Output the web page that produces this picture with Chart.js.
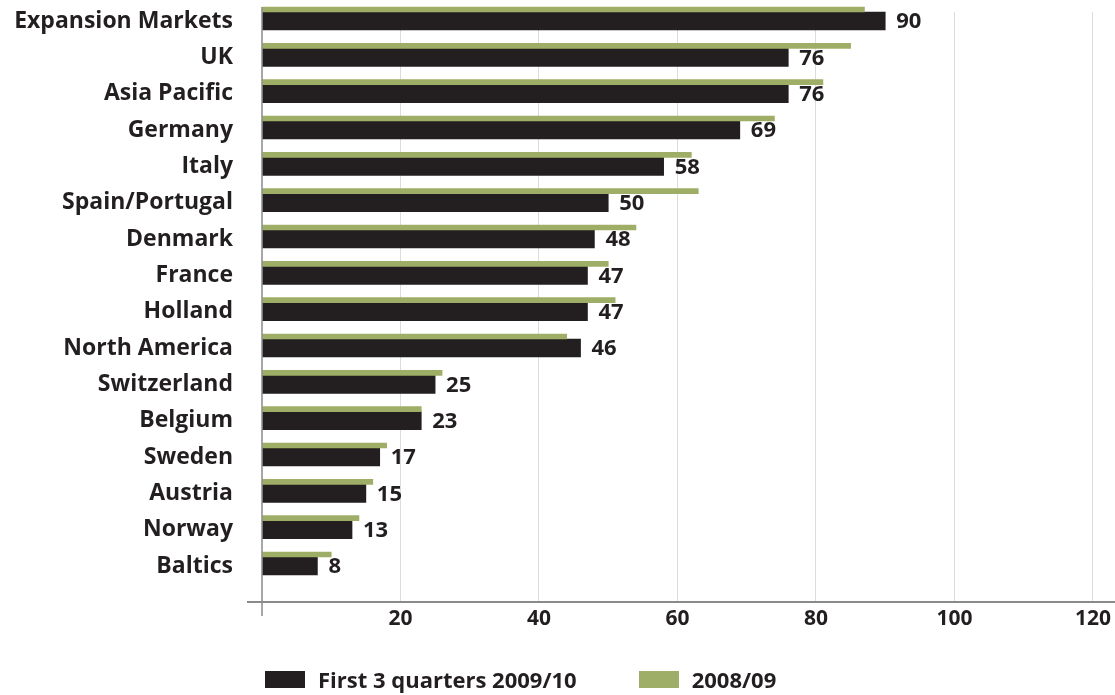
<!DOCTYPE html>
<html>
<head>
<meta charset="utf-8">
<script src="https://cdn.jsdelivr.net/npm/chart.js@4.4.1/dist/chart.umd.min.js"></script>
<style>
    body { margin: 0; background: #fff; }
    #wrap { position: relative; width: 1115px; height: 695px; }
    #legend { position: absolute; left: 265px; top: 664px; display: flex; font: bold 22px 'Open Sans', sans-serif; color: #231f20; }
    #legend .item { display: flex; align-items: center; margin-right: 62px; }
    #legend .box { width: 40px; height: 17px; margin-right: 13px; }
</style>
</head>
<body>
<div id="wrap">
    <canvas id="myChart"></canvas>
    <div id="legend"></div>
</div>
<script>
// 지역 이름
const regions = ['Expansion Markets', 'UK', 'Asia Pacific', 'Germany', 'Italy', 'Spain/Portugal', 'Denmark',
    'France', 'Holland', 'North America', 'Switzerland', 'Belgium', 'Sweden', 'Austria', 'Norway', 'Baltics'];
// First 3 quarters 2009/10
const current = [90, 76, 76, 69, 58, 50, 48, 47, 47, 46, 25, 23, 17, 15, 13, 8];
// 2008/09
const previous = [87, 85, 81, 74, 62, 63, 54, 50, 51, 44, 26, 23, 18, 16, 14, 10];
const xMax = 120;
const xStep = 20;

const seriesNames = ['First 3 quarters 2009/10', '2008/09'];
const darkColor = '#231f20';
const greenColor = '#9fae66';
const fontFamily = "'Open Sans', sans-serif";

// 막대 끝에 값 표시
const valueLabels = {
    id: 'valueLabels',
    afterDatasetsDraw(chart) {
        const ctx = chart.ctx;
        const meta = chart.getDatasetMeta(1);
        ctx.save();
        ctx.font = 'bold 22px ' + fontFamily;
        ctx.fillStyle = darkColor;
        ctx.textBaseline = 'middle';
        ctx.textAlign = 'left';
        meta.data.forEach((bar, i) => {
            ctx.fillText(current[i], bar.x + 11, bar.y + 1);
        });
        ctx.restore();
    }
};

// 축 선 (세로축은 아래로 더 길게, 가로축은 왼쪽으로 튀어나오게)
const axisLines = {
    id: 'axisLines',
    afterDraw(chart) {
        const ctx = chart.ctx;
        const area = chart.chartArea;
        const axisY = area.bottom + 45;
        ctx.save();
        ctx.strokeStyle = '#8a8a8a';
        ctx.lineWidth = 2;
        ctx.beginPath();
        ctx.moveTo(area.left - 15, axisY);
        ctx.lineTo(chart.width, axisY);
        ctx.stroke();
        ctx.lineWidth = 1.5;
        ctx.beginPath();
        ctx.moveTo(area.left, area.top - 5);
        ctx.lineTo(area.left, axisY + 14);
        ctx.stroke();
        ctx.restore();
    }
};

const ctx = document.getElementById('myChart').getContext('2d');
new Chart(ctx, {
    type: 'bar',
    data: {
        labels: regions,
        datasets: [{
            label: seriesNames[1],
            data: previous,
            backgroundColor: greenColor,
            barThickness: 5,
            clip: false
        }, {
            label: seriesNames[0],
            data: current,
            backgroundColor: darkColor,
            barThickness: 18,
            clip: false
        }]
    },
    options: {
        indexAxis: 'y',
        responsive: true,
        maintainAspectRatio: false,
        animation: false,
        layout: {
            padding: { top: 12, right: 20, left: 0, bottom: 0 }
        },
        plugins: {
            legend: { display: false },
            tooltip: { enabled: false }
        },
        scales: {
            x: {
                min: 0,
                max: xMax,
                border: { display: false },
                grid: {
                    color: (c) => c.tick && c.tick.value === 0 ? 'rgba(0,0,0,0)' : '#dcdcdc',
                    lineWidth: 1,
                    drawTicks: true,
                    tickLength: 45
                },
                ticks: {
                    stepSize: xStep,
                    padding: 4,
                    color: darkColor,
                    font: { family: fontFamily, weight: 'bold', size: 21 },
                    callback: (v) => v === 0 ? '' : v
                },
                afterFit: (s) => { s.height = 138; }
            },
            y: {
                offset: false,
                border: { display: false },
                grid: { display: false },
                ticks: {
                    padding: 21,
                    labelOffset: 9,
                    color: darkColor,
                    font: { family: fontFamily, weight: 'bold', size: 23 }
                },
                afterFit: (s) => {
                    s.width = 262;
                    s.paddingTop = 0;
                    s.paddingBottom = 0;
                }
            }
        }
    },
    plugins: [valueLabels, axisLines]
});

// 범례 (검정 먼저, 그 다음 초록)
const legend = document.getElementById('legend');
[[seriesNames[0], darkColor], [seriesNames[1], greenColor]].forEach(([name, color]) => {
    const item = document.createElement('div');
    item.className = 'item';
    item.innerHTML = '<span class="box" style="background:' + color + '"></span><span>' + name + '</span>';
    legend.appendChild(item);
});
</script>
</body>
</html>
